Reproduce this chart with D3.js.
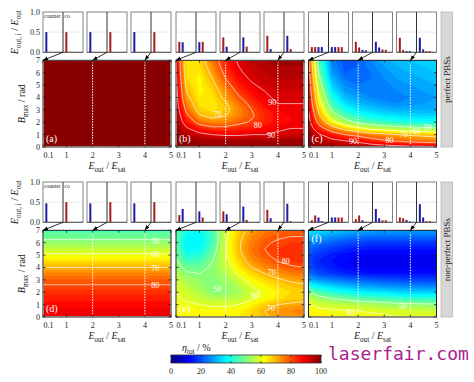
<!DOCTYPE html>
<html><head><meta charset="utf-8">
<script src="https://cdn.jsdelivr.net/npm/d3@7/dist/d3.min.js"></script>
<style>
html,body{margin:0;padding:0;background:#fff;}
svg{display:block;}
text{font-family:"Liberation Serif","Times New Roman",serif;white-space:pre;}
</style></head>
<body>
<svg id="chart" width="474" height="382"></svg>
<script>
// ================= DATA =================
const xGrid = [0.1,0.5,1,1.5,2,2.5,3,3.5,4,4.5,5];
const bGrid = [0,0.5,1,1.5,2,2.5,3,3.5,4,4.5,5,5.5,6,6.5,7];
const xTickValues = [0.1,1,2,3,4,5];
const bTickValues = [0,1,2,3,4,5,6,7];
const insetTickValues = [0,0.5,1];
const insetTickLabels = ["0.0","0.5","1.0"];
const probeX = [0.1,2,4];
const colorbarTicks = [0,20,40,60,80,100];
const contourLevels = [50,60,70,80,90];
const panelNames = ["(a)","(b)","(c)","(d)","(e)","(f)"];
const rowNames = ["perfect PBSs","non-perfect PBSs"];

// eta_tot (%) ; rows ordered B = 0 ... 7 ; columns follow xGrid
const etaA_byB = [99.5,99.5,99.5,99.5,99.5,99.5,99.5,99.5,99.5,99.5,99.5,99.5,99.5,99.5,99.5];
const etaD_byB = [89,88.5,87,85,83,80.5,78,74.5,70,65.5,61,56.5,52,48,45];
const etaB = [
 [99,99,99,99,99,99,99,99,99,99,99],
 [99,98,97,96,96,96,96,96,96,97,97],
 [98,95,92,90,89,89,90,90,91,92,92],
 [98,91,85,82,82,84,85,87,89,90,90],
 [97,86,77,74,75,78,81,84,87,88,88],
 [96,82,71,68,70,75,79,84,87,88,88],
 [95,78,67,65,68,74,80,85,88,89,89],
 [94,75,65,64,69,76,82,87,90,90,90],
 [93,72,64,65,72,79,85,89,91,91,91],
 [93,70,63,66,74,82,87,90,92,92,92],
 [92,68,63,68,77,85,89,92,93,93,93],
 [92,66,63,70,80,87,91,93,94,94,94],
 [91,65,64,72,82,89,92,94,95,95,95],
 [91,64,65,74,84,90,93,95,96,96,96],
 [90,64,66,76,85,91,94,96,97,97,97]
];
const etaC = [
 [99,99,98,97,96,95,94,93,92,92,91],
 [98,95,92,90,88,84,81,79,77,76,75],
 [97,91,85,80,77,74,72,70,69,68,67],
 [95,84,74,67,62,58,56,54,53,52,51],
 [93,77,63,54,48,45,43,41,40,39,39],
 [92,72,55,46,41,38,36,35,34,34,34],
 [90,68,49,40,35,33,31,30,30,30,30],
 [89,64,44,35,31,29,27,26,27,28,29],
 [88,61,40,31,28,26,25,25,26,27,28],
 [87,58,36,28,26,25,25,26,27,28,29],
 [86,55,33,26,24,24,25,27,28,29,30],
 [85,52,30,24,23,24,26,28,29,30,31],
 [84,49,28,22,22,24,27,29,30,31,32],
 [83,47,26,21,22,25,28,30,31,32,33],
 [82,45,25,21,22,26,29,31,32,33,34]
];
const etaE = [
 [63,63,63,63,63,64,66,69,72,73,74],
 [63,63,62,62,62,63,66,70,73,74,75],
 [62,61,60,59,59,60,63,67,70,71,72],
 [61,59,57,55,55,56,59,62,65,67,68],
 [60,58,55,51,51,54,58,61,64,66,67],
 [59,56,53,50,52,55,60,63,66,68,69],
 [57,54,52,51,53,58,63,66,69,71,72],
 [55,51,50,51,55,61,66,70,73,75,76],
 [53,48,48,51,57,64,70,74,77,79,80],
 [51,44,45,50,58,66,73,77,80,82,83],
 [49,40,41,48,59,68,75,79,82,83,84],
 [48,37,38,46,59,69,76,80,82,83,83],
 [47,36,36,44,59,69,75,79,81,82,82],
 [47,37,36,44,58,68,74,77,79,80,80],
 [48,40,38,45,58,67,72,75,77,78,78]
];
const etaF = [
 [65,64,63,62,62,61,61,60,60,60,60],
 [63,62,61,60.5,60,59.5,59,58.5,58,57.5,57],
 [60,58,57,56,55,54,53,52,52,51,51],
 [57,53,50,48,46,45,44,43,42,42,41],
 [50,45,41,39,37,36,35,34,33,33,33],
 [40,36,33,31,29,28,27,26,26,25,25],
 [30,27,25,23,22,21,20,20,19,19,19],
 [23,20,18,16,15,14,14,14,14,14,14],
 [20,17,15,13,12,12,11,11,11,11,11],
 [19,16,14,12,11,11,11,11,11,11,11],
 [20,17,15,13,12,12,12,12,12,12,12],
 [22,20,18,16,15,14,14,14,14,14,14],
 [26,24,22,20,19,18,18,18,18,18,18],
 [31,29,27,25,24,23,23,23,23,23,23],
 [36,35,33,31,30,29,28,28,28,28,28]
];

// contour labels: [level, Eout/Esat, Bmax]
const labelsA = [];
const labelsB = [[70,1.7,2.65],[80,3.23,1.77],[90,3.74,0.97],[90,3.78,3.64]];
const labelsC = [[90,1.8,0.48],[80,3.2,0.56],[70,3.75,1.05],[60,4.24,1.3],[50,4.66,1.6]];
const labelsD = [[50,4.4,6.15],[60,4.4,5.05],[70,4.4,3.95],[80,4.4,2.55]];
const labelsE = [[80,4.3,4.5],[70,3.77,3.6],[50,1.68,2.3],[60,3.13,1.8],[70,3.74,0.76]];
const labelsF = [[60,1.7,0.43],[50,3.7,0.9]];

// E_out,i / E_out  at probe points Eout/Esat = 0.1, 2, 4
const barsCounterA = [[0.5],[0.5],[0.5]];
const barsCoA      = [[0.5],[0.5],[0.5]];
const barsCounterB = [[0.26,0.25],[0.37,0.14],[0.41,0.08]];
const barsCoB      = [[0.25,0.26],[0.37,0.14],[0.41,0.08]];
const barsCounterC = [[0.13,0.13,0.13,0.13],[0.26,0.12,0.06,0.05],[0.36,0.06,0.03,0.03]];
const barsCoC      = [[0.13,0.13,0.13,0.13],[0.26,0.12,0.07,0.06],[0.36,0.07,0.03,0.03]];
const barsCounterD = [[0.47],[0.47],[0.47]];
const barsCoD      = [[0.5],[0.5],[0.5]];
const barsCounterE = [[0.18,0.33],[0.27,0.2],[0.31,0.1]];
const barsCoE      = [[0.27,0.12],[0.39,0.06],[0.46,0.03]];
const barsCounterF = [[0.05,0.17,0.12,0.03],[0.08,0.17,0.05,0.01],[0.12,0.1,0.06,0.02]];
const barsCoF      = [[0.12,0.12,0.12,0.12],[0.33,0.1,0.05,0.05],[0.45,0.12,0.03,0.03]];

// ================= STYLE / LAYOUT =================
const BLUE = "#1c1ca8", RED = "#a81c1c";
const counterColors = {1:[BLUE],2:[RED,BLUE],4:[RED,RED,BLUE,BLUE]};
const coColors      = {1:[RED],2:[BLUE,RED],4:[BLUE,BLUE,RED,RED]};
const colX0 = [43,176,308.5], panelW = 128;
const rowDY = [0,170];
const insetTop = 12, insetBot = 52.3, heatTop = 60.3, heatBot = 147;
const jet = d3.scaleLinear().domain([0,12.5,37.5,62.5,87.5,100])
  .range(["#000080","#0000ff","#00ffff","#ffff00","#ff0000","#800000"]).clamp(true);

const panels = [
 {grid: bGrid.map((b,j)=>xGrid.map(()=>etaA_byB[j])), counter:barsCounterA, co:barsCoA, labels:labelsA},
 {grid: etaB, counter:barsCounterB, co:barsCoB, labels:labelsB},
 {grid: etaC, counter:barsCounterC, co:barsCoC, labels:labelsC},
 {grid: bGrid.map((b,j)=>xGrid.map(()=>etaD_byB[j])), counter:barsCounterD, co:barsCoD, labels:labelsD},
 {grid: etaE, counter:barsCounterE, co:barsCoE, labels:labelsE},
 {grid: etaF, counter:barsCounterF, co:barsCoF, labels:labelsF}
];

const svg = d3.select("#chart");
const defs = svg.append("defs");
defs.append("marker").attr("id","arr").attr("viewBox","0 0 10 10").attr("refX",10).attr("refY",5)
  .attr("markerUnits","userSpaceOnUse").attr("markerWidth",5).attr("markerHeight",5).attr("orient","auto")
  .append("path").attr("d","M0,1L10,5L0,9Z").attr("fill","#000");

function rich(sel, parts, size){
  let prevSub = false;
  parts.forEach(([t,k])=>{
    const ts = sel.append("tspan").text(t);
    if (k==="i") ts.attr("font-style","italic");
    if (k==="s"){ ts.attr("font-size",size*0.72); if(!prevSub) ts.attr("dy",size*0.3); prevSub=true; }
    else { if(prevSub) ts.attr("dy",-size*0.3); prevSub=false; }
  });
}

const nx = xGrid.length, ny = bGrid.length;
const ix = d3.scaleLinear().domain(d3.range(nx)).range(xGrid).clamp(true);
const iy = d3.scaleLinear().domain([0,ny-1]).range([bGrid[0],bGrid[ny-1]]).clamp(true);
const fillThresholds = d3.range(0,101,2);

panels.forEach((p,pi)=>{
  const row = Math.floor(pi/3), col = pi%3;
  const dy = rowDY[row], x0 = colX0[col];
  const xS = d3.scaleLinear().domain([0.1,5]).range([x0,x0+panelW]);
  const yS = d3.scaleLinear().domain([0,7]).range([heatBot+dy,heatTop+dy]);
  const g = svg.append("g");

  const cid = "clip"+pi;
  defs.append("clipPath").attr("id",cid).append("rect")
    .attr("x",xS(0.1)).attr("y",yS(7)).attr("width",xS(5)-xS(0.1)).attr("height",yS(0)-yS(7));
  const hm = g.append("g").attr("clip-path",`url(#${cid})`);

  const proj = d3.geoTransform({point(x,y){ this.stream.point(xS(ix(x-0.5)), yS(iy(y-0.5))); }});
  const path = d3.geoPath(proj);
  const flat = p.grid.flat();
  const bands = d3.contours().size([nx,ny]).thresholds(fillThresholds)(flat);
  hm.selectAll("path.band").data(bands).join("path").attr("class","band")
    .attr("d",path).attr("fill",d=>jet(d.value+1)).attr("stroke",d=>jet(d.value+1)).attr("stroke-width",0.3);
  const lines = d3.contours().size([nx,ny]).thresholds(contourLevels)(flat);
  hm.selectAll("path.cl").data(lines).join("path").attr("class","cl")
    .attr("d",path).attr("fill","none").attr("stroke","#fff").attr("stroke-opacity",0.8).attr("stroke-width",0.8);
  hm.selectAll("line.probe").data(probeX.slice(1)).join("line").attr("class","probe")
    .attr("x1",d=>xS(d)).attr("x2",d=>xS(d)).attr("y1",yS(0)).attr("y2",yS(7))
    .attr("stroke","#fff").attr("stroke-width",1).attr("stroke-dasharray","1.5,1.2");
  hm.selectAll("text.cl").data(p.labels).join("text").attr("class","cl")
    .attr("x",d=>xS(d[1])).attr("y",d=>yS(d[2])+3).attr("text-anchor","middle")
    .attr("font-size",8).attr("fill","#fff").text(d=>d[0]);
  g.append("rect").attr("x",xS(0.1)).attr("y",yS(7)).attr("width",xS(5)-xS(0.1)).attr("height",yS(0)-yS(7))
    .attr("fill","none").attr("stroke","#222").attr("stroke-width",1);
  xTickValues.forEach(v=>{
    g.append("line").attr("x1",xS(v)).attr("x2",xS(v)).attr("y1",yS(0)).attr("y2",yS(0)-2.5).attr("stroke","#222").attr("stroke-width",0.8);
    g.append("line").attr("x1",xS(v)).attr("x2",xS(v)).attr("y1",yS(7)).attr("y2",yS(7)+2.5).attr("stroke","#222").attr("stroke-width",0.8);
  });
  bTickValues.forEach(v=>{
    g.append("line").attr("x1",xS(0.1)).attr("x2",xS(0.1)+2.5).attr("y1",yS(v)).attr("y2",yS(v)).attr("stroke","#222").attr("stroke-width",0.8);
    g.append("line").attr("x1",xS(5)).attr("x2",xS(5)-2.5).attr("y1",yS(v)).attr("y2",yS(v)).attr("stroke","#222").attr("stroke-width",0.8);
  });
  g.selectAll("text.xt").data(xTickValues).join("text").attr("class","xt")
    .attr("x",d=>d===0.1? xS(d)+0.5 : xS(d)).attr("y",yS(0)+10.5)
    .attr("text-anchor",d=>d===0.1?"start":"middle").attr("font-size",8).attr("fill","#222").text(d=>d);
  const xl = g.append("text").attr("x",x0+panelW/2).attr("y",heatBot+dy+21.5).attr("text-anchor","middle").attr("font-size",10).attr("fill","#222");
  rich(xl,[["E","i"],["out","s"],[" / ","n"],["E","i"],["sat","s"]],10);
  if (col===0){
    g.selectAll("text.yt").data(bTickValues).join("text").attr("class","yt")
      .attr("x",xS(0.1)-3).attr("y",d=>yS(d)+3).attr("text-anchor","end").attr("font-size",8).attr("fill","#222").text(d=>d);
    const yl = g.append("text").attr("transform",`translate(24.5,${(heatTop+heatBot)/2+dy}) rotate(-90)`)
      .attr("text-anchor","middle").attr("font-size",10).attr("fill","#222");
    rich(yl,[["B","i"],["max","s"],[" / rad","n"]],10);
  }
  const top = pi===5;
  g.append("text").attr("x",xS(0.1)+3).attr("y",top? yS(7)+12 : yS(0)-5).attr("font-size",10).attr("fill","#fff").text(panelNames[pi]);

  // ---------- insets ----------
  const iyS = d3.scaleLinear().domain([0,1]).range([insetBot+dy,insetTop+dy]);
  probeX.forEach((pv,k)=>{
    const left = x0 + k*44, w = 40;
    const ig = g.append("g");
    ig.append("rect").attr("x",left).attr("y",iyS(1)).attr("width",w).attr("height",iyS(0)-iyS(1))
      .attr("fill","#fff").attr("stroke","#777").attr("stroke-width",0.9);
    ig.append("line").attr("x1",left).attr("x2",left+w).attr("y1",iyS(0.5)).attr("y2",iyS(0.5))
      .attr("stroke","#bbb").attr("stroke-width",0.6).attr("stroke-dasharray","1,1");
    [[p.counter[k],counterColors,left],[p.co[k],coColors,left+w/2]].forEach(([vals,cols,bl])=>{
      const bx = d3.scaleLinear().domain([0,6]).range([bl,bl+w/2]);
      const cc = cols[vals.length];
      ig.selectAll(null).data(vals).join("rect")
        .attr("x",(d,i)=>bx(i+1)-1).attr("width",2)
        .attr("y",d=>iyS(d)).attr("height",d=>iyS(0)-iyS(d)).attr("fill",(d,i)=>cc[i]);
    });
    ig.append("line").attr("x1",left+w/2).attr("x2",left+w/2).attr("y1",iyS(1)).attr("y2",iyS(0))
      .attr("stroke","#333").attr("stroke-width",1);
    ig.append("line").attr("x1",left).attr("x2",left+w).attr("y1",iyS(0)).attr("y2",iyS(0)).attr("stroke","#555").attr("stroke-width",0.9);
    g.append("line").attr("x1",left+w/2).attr("y1",iyS(0)).attr("x2",xS(pv)).attr("y2",heatTop+dy)
      .attr("stroke","#000").attr("stroke-width",0.8).attr("marker-end","url(#arr)");
    if (col===0 && k===0){
      ig.append("text").attr("x",left+1).attr("y",iyS(1)+5.5).attr("font-size",5.5).attr("fill","#222").text("counter");
      ig.append("text").attr("x",left+w/2+1.5).attr("y",iyS(1)+5.5).attr("font-size",5.5).attr("fill","#222").text("co");
    }
  });
  if (col===0){
    g.selectAll("text.it").data(insetTickValues).join("text").attr("class","it")
      .attr("x",x0-3).attr("y",d=>iyS(d)+3).attr("text-anchor","end").attr("font-size",8).attr("fill","#222")
      .text((d,i)=>insetTickLabels[i]);
    const il = g.append("text").attr("transform",`translate(17.5,${(insetTop+insetBot)/2+dy}) rotate(-90)`)
      .attr("text-anchor","middle").attr("font-size",10).attr("fill","#222");
    rich(il,[["E","i"],["out, i","s"],[" / ","n"],["E","i"],["out","s"]],10);
  }
});

rowNames.forEach((nm,r)=>{
  const dy = rowDY[r];
  svg.append("rect").attr("x",441).attr("y",insetTop+dy).attr("width",11.5).attr("height",heatBot-insetTop)
    .attr("fill","#d7d7d7").attr("stroke","#b8b8b8").attr("stroke-width",0.8);
  svg.append("text").attr("transform",`translate(449.5,${(insetTop+heatBot)/2+dy}) rotate(-90)`)
    .attr("text-anchor","middle").attr("font-size",9).attr("fill","#222").text(nm);
});

// colorbar
const cbX = d3.scaleLinear().domain([0,100]).range([171,321]);
const cbY0 = 355, cbH = 8;
const grad = defs.append("linearGradient").attr("id","jetgrad");
jet.domain().forEach(v=>grad.append("stop").attr("offset",v+"%").attr("stop-color",jet(v)));
svg.append("rect").attr("x",cbX(0)).attr("y",cbY0).attr("width",cbX(100)-cbX(0)).attr("height",cbH)
  .attr("fill","url(#jetgrad)").attr("stroke","#333").attr("stroke-width",0.8);
colorbarTicks.forEach(v=>{
  svg.append("line").attr("x1",cbX(v)).attr("x2",cbX(v)).attr("y1",cbY0).attr("y2",cbY0+1.8).attr("stroke","#222").attr("stroke-width",0.8);
  svg.append("line").attr("x1",cbX(v)).attr("x2",cbX(v)).attr("y1",cbY0+cbH).attr("y2",cbY0+cbH-1.8).attr("stroke","#222").attr("stroke-width",0.8);
  svg.append("text").attr("x",cbX(v)).attr("y",cbY0+cbH+11).attr("text-anchor","middle").attr("font-size",8).attr("fill","#222").text(v);
});
const cbl = svg.append("text").attr("x",182).attr("y",351).attr("font-size",10).attr("fill","#222");
rich(cbl,[["η","i"],["tot","s"],[" / %","n"]],10);

// watermark
svg.append("text").attr("x",328).attr("y",359.5)
  .attr("font-size",18).attr("fill","#a81e8c").style("font-family","'DejaVu Sans Mono',monospace").text("laserfair.com");
</script>
</body></html>
